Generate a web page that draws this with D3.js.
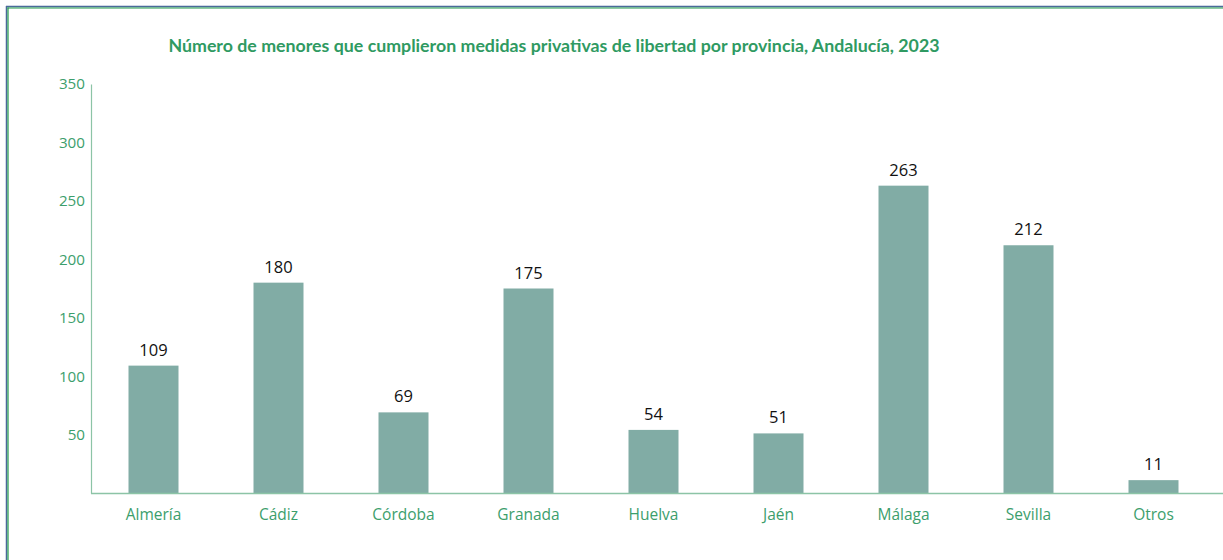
<!DOCTYPE html>
<html>
<head>
<meta charset="utf-8">
<script src="https://cdn.jsdelivr.net/npm/d3@7"></script>
<style>
  body { margin: 0; background: #fff; }
  svg { display: block; }
</style>
</head>
<body>
<svg id="chart"></svg>
<script>
const provincias = ['Almería', 'Cádiz', 'Córdoba', 'Granada', 'Huelva', 'Jaén', 'Málaga', 'Sevilla', 'Otros'];
const menores = [109, 180, 69, 175, 54, 51, 263, 212, 11];
const yTicks = [50, 100, 150, 200, 250, 300, 350];
const titulo = 'Número de menores que cumplieron medidas privativas de libertad por provincia, Andalucía, 2023';

const W = 1223, H = 560;
const margin = { top: 84, right: 7, bottom: 67, left: 91 };
const width = W - margin.left - margin.right;
const height = H - margin.top - margin.bottom;

const svg = d3.select('#chart').attr('width', W).attr('height', H);

// frame lines (top and left only)
svg.append('line').attr('x1', 6).attr('x2', W).attr('y1', 6.5).attr('y2', 6.5)
    .attr('stroke', '#4a6a9a').attr('stroke-width', 1.5);
svg.append('line').attr('x1', 7.5).attr('x2', W).attr('y1', 8).attr('y2', 8)
    .attr('stroke', '#1f9a4a').attr('stroke-width', 1.2);
svg.append('line').attr('x1', 6.5).attr('x2', 6.5).attr('y1', 6).attr('y2', H)
    .attr('stroke', '#4a6a9a').attr('stroke-width', 1.5);
svg.append('line').attr('x1', 8).attr('x2', 8).attr('y1', 7.5).attr('y2', H)
    .attr('stroke', '#1f9a4a').attr('stroke-width', 1.2);

const title = svg.append('text')
    .attr('x', 554).attr('y', 52)
    .attr('text-anchor', 'middle')
    .attr('font-family', 'Lato, "Open Sans", sans-serif')
    .attr('font-weight', 'bold')
    .attr('font-size', 15)
    .attr('fill', '#2f9a62')
    .text(titulo);
// fit title to the reference width
const tw = title.node().getComputedTextLength();
title.attr('font-size', 15 * 772 / tw);

const g = svg.append('g').attr('transform', `translate(${margin.left},${margin.top})`);

const x = d3.scaleBand().domain(provincias).range([0, 9 * 125]).paddingInner(0.6).paddingOuter(0.3);
const y = d3.scaleLinear().domain([0, 350]).range([height, 0]);

g.selectAll('.bar')
    .data(provincias)
    .join('rect')
    .attr('class', 'bar')
    .attr('x', d => x(d))
    .attr('y', (d, i) => y(menores[i]))
    .attr('width', x.bandwidth())
    .attr('height', (d, i) => height - y(menores[i]))
    .attr('fill', '#81aca5');

g.selectAll('.val')
    .data(provincias)
    .join('text')
    .attr('class', 'val')
    .attr('x', d => x(d) + x.bandwidth() / 2)
    .attr('y', (d, i) => y(menores[i]) - 10)
    .attr('text-anchor', 'middle')
    .attr('font-family', '"Open Sans", sans-serif')
    .attr('font-size', 16.5)
    .attr('fill', '#111')
    .text((d, i) => menores[i]);

// y axis
const yAxis = d3.axisLeft(y).tickValues(yTicks).tickSize(0).tickPadding(6);
const yG = g.append('g').call(yAxis);
yG.select('.domain').attr('stroke', '#8cc4a6').attr('stroke-width', 1.2);
yG.selectAll('text')
    .attr('font-family', '"Open Sans", sans-serif')
    .attr('font-size', 15.2)
    .attr('fill', '#3c9e6c');

// x axis
const xAxis = d3.axisBottom(x).tickSize(0).tickPadding(16);
const xG = g.append('g').attr('transform', `translate(0,${height})`).call(xAxis);
xG.select('.domain').attr('d', `M0,0.5H${W - margin.left}`).attr('stroke', '#8cc4a6').attr('stroke-width', 1.5);
xG.selectAll('text')
    .attr('font-family', '"Open Sans", sans-serif')
    .attr('font-size', 15.5)
    .attr('fill', '#3c9e6c');
</script>
</body>
</html>
